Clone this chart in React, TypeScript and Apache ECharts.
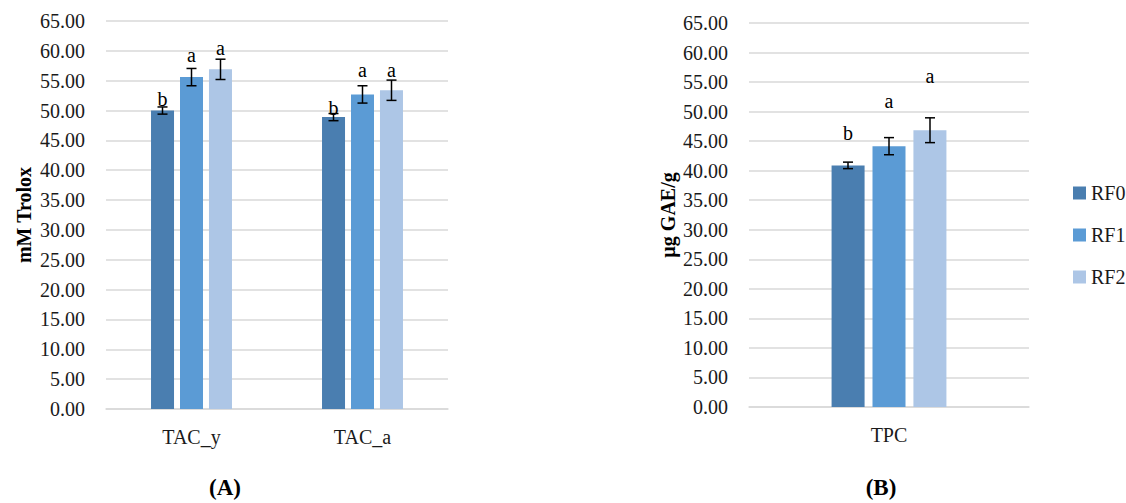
import React, { useEffect, useRef } from "react";
import * as echarts from "echarts";

const seriesNames = ["RF0", "RF1", "RF2"];
const colors = ["#4A7EB0", "#5B9BD5", "#ADC6E6"];

// Panel A
const categoriesA = ["TAC_y", "TAC_a"];
const valuesA = [
  [50.0, 48.9],
  [55.6, 52.7],
  [56.9, 53.4],
];
const errorsA = [
  [0.6, 0.6],
  [1.45, 1.45],
  [1.7, 1.7],
];
const lettersA = [
  ["b", "b"],
  ["a", "a"],
  ["a", "a"],
];
const letterYA = [
  [52.0, 50.5],
  [59.25, 56.75],
  [60.45, 56.75],
];

// Panel B
const categoriesB = ["TPC"];
const valuesB = [[40.9], [44.15], [46.85]];
const errorsB = [[0.55], [1.45], [2.1]];
const lettersB = [["b"], ["a"], ["a"]];
const letterYB = [[46.4], [51.75], [55.95]];

const yMin = 0;
const yMax = 65;
const yInterval = 5;

const FONT = "Liberation Serif";
const GRID_COLOR = "#D9D9D9";
const TEXT_COLOR = "#1a1a1a";

function makeErrorSeries(
  name: string,
  axisIndex: number,
  sIdx: number,
  values: number[],
  errors: number[],
  letters: string[],
  letterY: number[],
  barW: number,
  gap: number
) {
  const off = (sIdx - 1) * (barW + gap);
  return {
    type: "custom",
    name,
    xAxisIndex: axisIndex,
    yAxisIndex: axisIndex,
    z: 5,
    data: values.map((v, i) => [i, v, errors[i], letterY[i]]),
    renderItem: (params: any, api: any) => {
      const ci = api.value(0);
      const v = api.value(1);
      const e = api.value(2);
      const ly = api.value(3);
      const c = api.coord([ci, v]);
      const x = c[0] + off;
      const yT = api.coord([ci, v + e])[1];
      const yB = api.coord([ci, v - e])[1];
      const yL = api.coord([ci, ly])[1];
      const cap = 5;
      const st = { stroke: "#000", lineWidth: 1.5 };
      return {
        type: "group",
        children: [
          { type: "line", shape: { x1: x, y1: yT, x2: x, y2: yB }, style: st },
          { type: "line", shape: { x1: x - cap, y1: yT, x2: x + cap, y2: yT }, style: st },
          { type: "line", shape: { x1: x - cap, y1: yB, x2: x + cap, y2: yB }, style: st },
          {
            type: "text",
            x,
            y: yL,
            style: {
              text: letters[params.dataIndex],
              fill: "#000",
              font: `20px '${FONT}'`,
              textAlign: "center",
              textVerticalAlign: "middle",
            },
          },
        ],
      };
    },
  };
}

export default function App() {
  const ref = useRef<HTMLDivElement>(null);
  useEffect(() => {
    document.body.style.margin = "0";
    const chart = echarts.init(ref.current!, null, { renderer: "svg" });
    const yAxisCommon = (name: string, gap: number, idx: number) => ({
      type: "value",
      gridIndex: idx,
      min: yMin,
      max: yMax,
      interval: yInterval,
      name,
      nameLocation: "middle",
      nameRotate: 90,
      nameGap: gap,
      nameTextStyle: { fontFamily: FONT, fontWeight: "bold", fontSize: 20, color: "#000" },
      axisLine: { show: false },
      axisTick: { show: false },
      axisLabel: {
        fontFamily: FONT,
        fontSize: 20,
        color: TEXT_COLOR,
        margin: 21,
        formatter: (v: number) => v.toFixed(2),
      },
      splitLine: { lineStyle: { color: GRID_COLOR, width: 1.5 } },
    });
    const xAxisCommon = (data: string[], idx: number) => ({
      type: "category",
      gridIndex: idx,
      data,
      axisLine: { lineStyle: { color: GRID_COLOR, width: 1.5 } },
      axisTick: { show: false },
      axisLabel: { fontFamily: FONT, fontSize: 20, color: TEXT_COLOR, margin: 18 },
    });
    const barsA = seriesNames.map((n, s) => ({
      type: "bar",
      name: n,
      xAxisIndex: 0,
      yAxisIndex: 0,
      data: valuesA[s],
      barWidth: 23,
      barGap: "26%",
      itemStyle: { color: colors[s] },
    }));
    const barsB = seriesNames.map((n, s) => ({
      type: "bar",
      name: n,
      xAxisIndex: 1,
      yAxisIndex: 1,
      data: valuesB[s],
      barWidth: 33,
      barGap: "24%",
      itemStyle: { color: colors[s] },
    }));
    const errA = seriesNames.map((n, s) =>
      makeErrorSeries("errA" + s, 0, s, valuesA[s], errorsA[s], lettersA[s], letterYA[s], 23, 6)
    );
    const errB = seriesNames.map((n, s) =>
      makeErrorSeries("errB" + s, 1, s, valuesB[s], errorsB[s], lettersB[s], letterYB[s], 33, 8)
    );
    chart.setOption({
      animation: false,
      textStyle: { fontFamily: FONT },
      grid: [
        { left: 106, right: 678, top: 21, bottom: 94 },
        { left: 749, right: 97, top: 23, bottom: 96 },
      ],
      xAxis: [xAxisCommon(categoriesA, 0), xAxisCommon(categoriesB, 1)],
      yAxis: [yAxisCommon("mM Trolox", 72, 0), yAxisCommon("µg GAE/g", 71, 1)],
      legend: {
        data: seriesNames,
        orient: "vertical",
        left: 1068,
        top: 178,
        itemWidth: 13,
        itemHeight: 13,
        itemGap: 22,
        icon: "rect",
        textStyle: { fontFamily: FONT, fontSize: 20, color: TEXT_COLOR },
      },
      graphic: [
        {
          type: "text",
          x: 225,
          y: 487,
          style: {
            text: "(A)",
            font: `bold 23px '${FONT}'`,
            fill: "#000",
            textAlign: "center",
            textVerticalAlign: "middle",
          },
        },
        {
          type: "text",
          x: 881,
          y: 487,
          style: {
            text: "(B)",
            font: `bold 23px '${FONT}'`,
            fill: "#000",
            textAlign: "center",
            textVerticalAlign: "middle",
          },
        },
      ],
      series: [...barsA, ...barsB, ...errA, ...errB],
    });
    return () => chart.dispose();
  }, []);
  return <div ref={ref} style={{ width: 1126, height: 503 }} />;
}
